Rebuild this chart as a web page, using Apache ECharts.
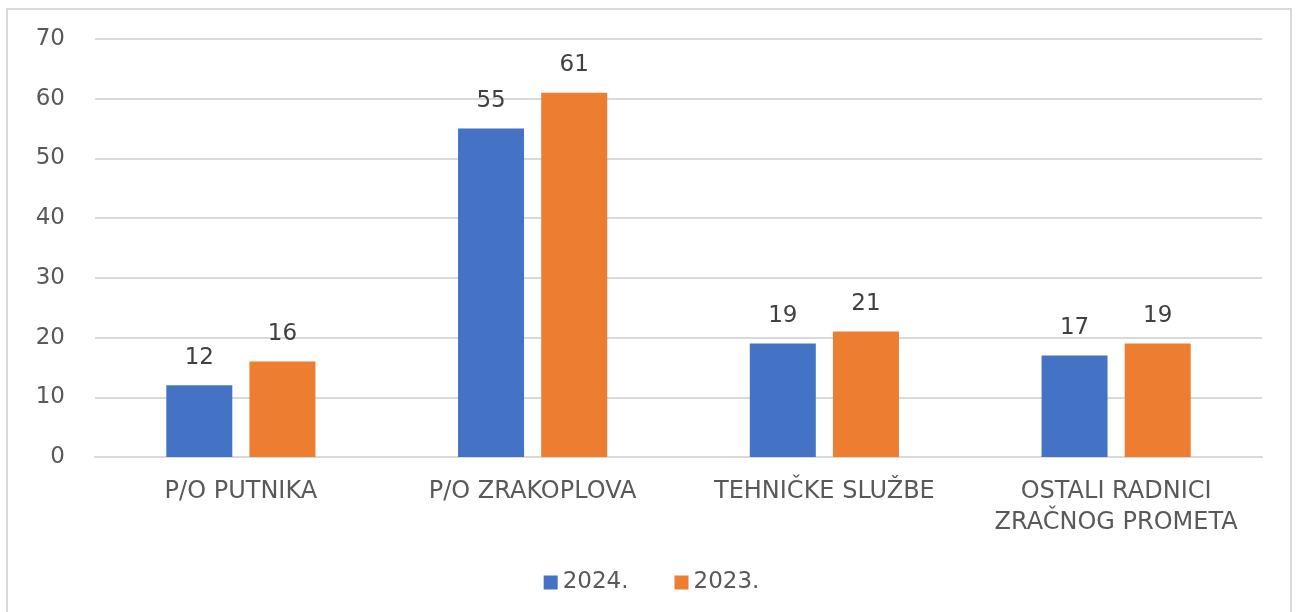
<!DOCTYPE html>
<html>
<head>
<meta charset="utf-8">
<script src="https://cdn.jsdelivr.net/npm/echarts@6/dist/echarts.min.js"></script>
<style>
  html, body { margin: 0; padding: 0; background: #ffffff; }
  #frame { position: absolute; left: 6px; top: 8px; width: 1286px; height: 604px; border: 2px solid #d9d9d9; border-bottom: none; box-sizing: border-box; }
  #chart { position: absolute; left: 0; top: 0; width: 1303px; height: 612px; }
</style>
</head>
<body>
<div id="frame"></div>
<div id="chart"></div>
<script>
var categories = ['P/O PUTNIKA', 'P/O ZRAKOPLOVA', 'TEHNIČKE SLUŽBE', 'OSTALI RADNICI\nZRAČNOG PROMETA'];
var values2024 = [12, 55, 19, 17];
var values2023 = [16, 61, 21, 19];

var textColor = '#595959';
var font = '"DejaVu Sans", sans-serif';

var chart = echarts.init(document.getElementById('chart'));

function barSeries(name, data, color) {
  return {
    name: name,
    type: 'bar',
    data: data,
    barWidth: 66,
    barGap: '26%',
    itemStyle: { color: color },
    label: {
      show: true,
      position: 'top',
      distance: 16,
      color: '#404040',
      fontSize: 23,
      fontFamily: font
    }
  };
}

chart.setOption({
  animation: false,
  grid: { left: 95, right: 41, top: 39, bottom: 155 },
  legend: {
    top: 566,
    left: 'center',
    itemWidth: 14,
    itemHeight: 14,
    itemGap: 46,
    icon: 'rect',
    textStyle: { color: textColor, fontSize: 23, fontFamily: font },
    data: ['2024.', '2023.']
  },
  xAxis: {
    type: 'category',
    data: categories,
    axisLine: { show: true, lineStyle: { color: '#d9d9d9', width: 2 } },
    axisTick: { show: false },
    axisLabel: {
      color: textColor,
      fontSize: 24,
      fontFamily: font,
      margin: 19,
      lineHeight: 31,
      interval: 0
    }
  },
  yAxis: {
    type: 'value',
    min: 0,
    max: 70,
    interval: 10,
    axisLine: { show: false },
    axisTick: { show: false },
    axisLabel: { color: textColor, fontSize: 23, fontFamily: font, margin: 30 },
    splitLine: { lineStyle: { color: '#d9d9d9', width: 2 } }
  },
  series: [
    barSeries('2024.', values2024, '#4472c4'),
    barSeries('2023.', values2023, '#ed7d31')
  ]
});
</script>
</body>
</html>
